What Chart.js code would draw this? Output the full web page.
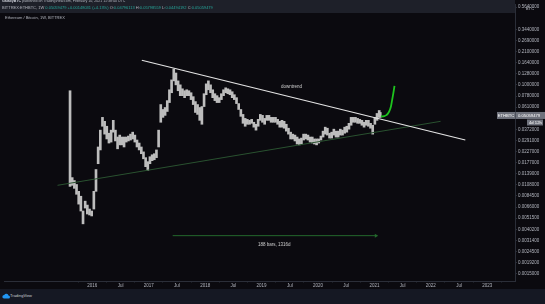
<!DOCTYPE html>
<html><head><meta charset="utf-8">
<script src="https://cdn.jsdelivr.net/npm/chart.js@4.4.1/dist/chart.umd.min.js"></script>
<style>
html,body{margin:0;padding:0;background:#0b0a0f;width:545px;height:304px;overflow:hidden;font-family:"Liberation Sans",Arial,sans-serif;}
#wrap{position:absolute;left:0;top:0;width:545px;height:289px;}
#hdr{position:absolute;left:0;top:0;width:515px;height:13px;background:#1e2029;color:#b2b5be;line-height:1;}
.l1{position:absolute;left:2px;top:0.4px;font-size:3.6px;white-space:nowrap;}
.l1 b{color:#d1d4dc;}
.l2{position:absolute;left:2px;top:5.6px;font-size:4px;white-space:nowrap;}
.v{color:#26a69a;}
#sym{position:absolute;left:5px;top:16px;font-size:4px;line-height:1;color:#b2b5be;white-space:nowrap;}
#ftr{position:absolute;left:0;top:289px;width:545px;height:15px;background:#151823;}
#ftr svg{position:absolute;left:2px;top:4px;}
#ftr span{position:absolute;left:10px;top:4.5px;font-size:4px;line-height:1;color:#c9ccd4;}
</style></head>
<body>
<div id="wrap"><canvas id="c" width="545" height="289"></canvas></div>
<div id="hdr">
  <div class="l1"><b>GalaxyBTC</b> published on TradingView.com, February 10, 2021 11:38:40 UTC</div>
  <div class="l2">BITTREX:ETHBTC, 1W <span class="v">0.05059479 +0.00148031 (+4.13%)</span> O:<span class="v">0.04796113</span> H:<span class="v">0.05798559</span> L:<span class="v">0.04494192</span> C:<span class="v">0.05059479</span></div>
</div>
<div id="sym">Ethereum / Bitcoin, 1W, BITTREX</div>
<div id="ftr">
  <svg width="8" height="6" viewBox="0 0 16 12"><path d="M4 11h9a3 3 0 0 0 0-6 4.5 4.5 0 0 0-8.5-1A3.5 3.5 0 0 0 4 11z" fill="#2196f3"/></svg>
  <span>TradingView</span>
</div>
<script>
// ---- data ----
const weekDates = [
'2015-08-10','2015-08-24','2015-09-07','2015-09-21','2015-10-05','2015-10-19','2015-11-02','2015-11-16','2015-11-30','2015-12-14','2015-12-28',
'2016-01-11','2016-01-25','2016-02-08','2016-02-22','2016-03-07','2016-03-21','2016-04-04','2016-04-18','2016-05-02','2016-05-16','2016-05-30','2016-06-13','2016-06-27','2016-07-11','2016-07-25','2016-08-08','2016-08-22','2016-09-05','2016-09-19','2016-10-03','2016-10-17','2016-10-31','2016-11-14','2016-11-28','2016-12-12','2016-12-26',
'2017-01-09','2017-01-23','2017-02-06','2017-02-20','2017-03-06','2017-03-20','2017-04-03','2017-04-17','2017-05-01','2017-05-15','2017-05-29','2017-06-12','2017-06-26','2017-07-10','2017-07-24','2017-08-07','2017-08-21','2017-09-04','2017-09-18','2017-10-02','2017-10-16','2017-10-30','2017-11-13','2017-11-27','2017-12-11','2017-12-25',
'2018-01-08','2018-01-22','2018-02-05','2018-02-19','2018-03-05','2018-03-19','2018-04-02','2018-04-16','2018-04-30','2018-05-14','2018-05-28','2018-06-11','2018-06-25','2018-07-09','2018-07-23','2018-08-06','2018-08-20','2018-09-03','2018-09-17','2018-10-01','2018-10-15','2018-10-29','2018-11-12','2018-11-26','2018-12-10','2018-12-24',
'2019-01-07','2019-01-21','2019-02-04','2019-02-18','2019-03-04','2019-03-18','2019-04-01','2019-04-15','2019-04-29','2019-05-13','2019-05-27','2019-06-10','2019-06-24','2019-07-08','2019-07-22','2019-08-05','2019-08-19','2019-09-02','2019-09-16','2019-09-30','2019-10-14','2019-10-28','2019-11-11','2019-11-25','2019-12-09','2019-12-23',
'2020-01-06','2020-01-20','2020-02-03','2020-02-17','2020-03-02','2020-03-16','2020-03-30','2020-04-13','2020-04-27','2020-05-11','2020-05-25','2020-06-08','2020-06-22','2020-07-06','2020-07-20','2020-08-03','2020-08-17','2020-08-31','2020-09-14','2020-09-28','2020-10-12','2020-10-26','2020-11-09','2020-11-23','2020-12-07','2020-12-21',
'2021-01-04','2021-01-18','2021-02-01','2021-02-08'];

const rangeHigh = [
0.0877,0.0127,0.0119,0.0109,0.00936,0.00839,0.00604,0.00752,0.00689,0.00631,0.00604,
0.00936,0.0152,0.0251,0.0365,0.0485,0.0444,0.0398,0.0341,0.0365,0.0454,0.0365,0.0313,0.0327,0.0313,0.0313,0.0313,0.0320,0.0334,0.0349,0.0327,0.0293,0.0274,0.0251,0.0225,0.0198,0.0181,
0.0202,0.0211,0.0216,0.0235,0.0365,0.0645,0.0578,0.0604,0.0704,0.0896,0.1116,0.1420,0.1301,0.1092,0.1000,0.0916,0.0877,0.0896,0.0877,0.0839,0.0769,0.0689,0.0645,0.0604,0.0617,0.0821,
0.1022,0.1092,0.1000,0.0896,0.0821,0.0786,0.0752,0.0821,0.0896,0.0936,0.0916,0.0896,0.0858,0.0803,0.0752,0.0659,0.0578,0.0518,0.0474,0.0464,0.0454,0.0464,0.0435,0.0416,0.0464,0.0518,
0.0507,0.0474,0.0507,0.0507,0.0485,0.0485,0.0485,0.0464,0.0444,0.0454,0.0444,0.0416,0.0381,0.0349,0.0334,0.0327,0.0313,0.0300,0.0306,0.0334,0.0334,0.0327,0.0313,0.0313,0.0300,0.0300,
0.0300,0.0320,0.0357,0.0390,0.0381,0.0341,0.0349,0.0373,0.0357,0.0357,0.0373,0.0365,0.0390,0.0398,0.0425,0.0485,0.0485,0.0485,0.0474,0.0464,0.0454,0.0435,0.0454,0.0454,0.0425,0.0407,
0.0485,0.0529,0.0565,0.0541];

const rangeLow = [
0.01045,0.0107,0.0100,0.00876,0.00704,0.00604,0.00454,0.00645,0.00565,0.00553,0.00541,
0.00631,0.00936,0.0173,0.0235,0.0398,0.0334,0.0300,0.0274,0.0280,0.0349,0.0287,0.0241,0.0263,0.0263,0.0251,0.0280,0.0287,0.0293,0.0300,0.0280,0.0251,0.0235,0.0216,0.0193,0.0162,0.0149,
0.0173,0.0185,0.0189,0.0198,0.0251,0.0435,0.0485,0.0507,0.0553,0.0674,0.0839,0.1092,0.1000,0.0877,0.0786,0.0786,0.0752,0.0786,0.0786,0.0720,0.0645,0.0541,0.0518,0.0454,0.0416,0.0617,
0.0803,0.0896,0.0839,0.0752,0.0704,0.0674,0.0674,0.0720,0.0786,0.0839,0.0821,0.0803,0.0752,0.0720,0.0659,0.0578,0.0496,0.0425,0.0398,0.0416,0.0416,0.0425,0.0390,0.0365,0.0398,0.0454,
0.0435,0.0416,0.0454,0.0454,0.0435,0.0435,0.0435,0.0416,0.0390,0.0390,0.0381,0.0357,0.0334,0.0300,0.0300,0.0287,0.0268,0.0263,0.0268,0.0293,0.0300,0.0293,0.0280,0.0274,0.0268,0.0263,
0.0274,0.0293,0.0313,0.0334,0.0327,0.0306,0.0306,0.0327,0.0313,0.0313,0.0327,0.0327,0.0341,0.0349,0.0373,0.0407,0.0435,0.0435,0.0425,0.0425,0.0407,0.0390,0.0407,0.0398,0.0381,0.0334,
0.0416,0.0454,0.0485,0.0485];

const projDates  = ['2021-02-13','2021-02-24','2021-03-06','2021-03-17','2021-03-28','2021-04-07','2021-04-18','2021-04-25','2021-05-03','2021-05-11'];
const projValues = [0.0502,0.0494,0.0499,0.0507,0.0525,0.0553,0.0617,0.0704,0.0821,0.0978];

const trendDates = ['2016-11-17','2022-08-12'];
const trendValues = [0.1729,0.0293];
const trendLabel = 'downtrend';
const trendLabelDate = '2019-07-14';

const supportDates = ['2015-05-21','2022-03-05'];
const supportValues = [0.0107,0.0444];

const measureDates = ['2017-06-05','2021-01-11'];
const measureValues = [0.00349,0.00349];
const measureLabel = '188 bars, 1316d';

const yTickValues = [0.0015,0.00192,0.00245,0.00314,0.00402,0.00515,0.0066,0.00845,0.0108,0.0139,0.0177,0.0227,0.0291,0.0372,0.061,0.078,0.1,0.128,0.164,0.21,0.269,0.344,0.564];
const xTickYears = [2016,2016.5,2017,2017.5,2018,2018.5,2019,2019.5,2020,2020.5,2021,2021.5,2022,2022.5,2023];

const symbolName = 'ETHBTC';
const lastPrice = 0.05059479;
const countdown = '4d 12h';
const unitLabel = 'BTC';

// ---- helpers ----
function toYear(s){
  const [y,m,d] = s.split('-').map(Number);
  const a = Date.UTC(y,0,1), b = Date.UTC(y+1,0,1);
  return y + (Date.UTC(y,m-1,d) - a) / (b - a);
}
const pts = (ds, vs) => ds.map((d,i)=>({x:toYear(d), y:vs[i]}));

const FONT = '"Liberation Sans", Arial, sans-serif';
Chart.defaults.font.family = FONT;

const overlay = {
  id: 'overlay',
  afterDraw(chart){
    const {ctx, chartArea:ca, scales:{x, y}} = chart;
    ctx.save();
    ctx.font = '4.5px ' + FONT;
    ctx.textBaseline = 'middle';
    const x0 = x.getPixelForValue(toYear(trendDates[0])), x1 = x.getPixelForValue(toYear(trendDates[1]));
    const y0 = y.getPixelForValue(trendValues[0]), y1 = y.getPixelForValue(trendValues[1]);
    const tx = x.getPixelForValue(toYear(trendLabelDate));
    const ty = y0 + (y1 - y0) * (tx - x0) / (x1 - x0);
    ctx.fillStyle = '#cfcfcf';
    ctx.textAlign = 'center';
    ctx.fillText(trendLabel, tx, ty - 10.5);
    const mx0 = x.getPixelForValue(toYear(measureDates[0])), mx1 = x.getPixelForValue(toYear(measureDates[1]));
    const my = y.getPixelForValue(measureValues[0]);
    ctx.fillText(measureLabel, (mx0 + mx1) / 2, my + 9);
    const py = y.getPixelForValue(lastPrice);
    ctx.fillStyle = '#6f727c';
    ctx.fillRect(ca.right - 18, py - 3.5, 18, 7);
    ctx.fillRect(ca.right + 0.5, py - 3.5, 29.5, 7);
    ctx.fillRect(ca.right + 12, py + 4, 16, 6);
    ctx.fillStyle = '#ffffff';
    ctx.font = '4.2px ' + FONT;
    ctx.textAlign = 'center';
    ctx.fillText(symbolName, ca.right - 9, py + 0.3);
    ctx.textAlign = 'left';
    ctx.fillText(lastPrice.toFixed(8), ca.right + 3, py + 0.3);
    ctx.fillText(countdown, ca.right + 14, py + 7.2);
    ctx.fillStyle = '#b2b5be';
    ctx.textAlign = 'center';
    ctx.fillText(unitLabel, ca.right + 15, 9);
    ctx.restore();
  }
};

new Chart(document.getElementById('c'), {
  type: 'bar',
  data: {
    datasets: [
      {type:'line', label:'Projection', data: pts(projDates, projValues), borderColor:'#1ec41e', borderWidth:1.8, pointRadius:0, tension:0.25, order:0},
      {type:'line', label:'Downtrend', data: pts(trendDates, trendValues), borderColor:'#e4e4e4', borderWidth:1.1, pointRadius:0, order:1},
      {type:'line', label:'Support', data: pts(supportDates, supportValues), borderColor:'#2a5230', borderWidth:1, pointRadius:0, order:2},
      {type:'line', label:'Range', data: pts(measureDates, measureValues), borderColor:'#24692c', borderWidth:1,
        pointRadius:[0,2.3], pointStyle:'triangle', rotation:90, pointBackgroundColor:'#24692c', pointBorderWidth:0, order:2},
      {type:'bar', label:'ETHBTC', data: weekDates.map((d,i)=>({x:toYear(d), y:[rangeLow[i], rangeHigh[i]]})),
        backgroundColor:'#bdbdbd', barThickness:2, order:5}
    ]
  },
  options: {
    responsive:false, animation:false, devicePixelRatio:1,
    layout:{padding:0},
    plugins:{legend:{display:false}, tooltip:{enabled:false}},
    scales:{
      x:{
        type:'linear', min:2014.435, max:2023.492, offset:false,
        grid:{display:true, drawOnChartArea:false, color:'#2b2e38', tickLength:1.5},
        border:{color:'#2b2e38'},
        ticks:{color:'#b2b5be', font:{size:4.5}, padding:0.5, maxRotation:0, autoSkip:false,
          callback:v => (Math.abs(v % 1) < 1e-9 ? String(v) : 'Jul')},
        afterBuildTicks:s => { s.ticks = xTickYears.map(v => ({value:v})); },
        afterFit:s => { s.height = 8; s.paddingLeft = 0; s.paddingRight = 0; }
      },
      y:{
        type:'logarithmic', position:'right', min:0.001273, max:0.604,
        grid:{display:true, drawOnChartArea:false, color:'#2b2e38', tickLength:2},
        border:{color:'#2b2e38'},
        ticks:{color:'#b2b5be', font:{size:4.5}, padding:1, autoSkip:false,
          callback:v => Number(v).toFixed(7)},
        afterBuildTicks:s => { s.ticks = yTickValues.map(v => ({value:v})); },
        afterFit:s => { s.width = 30; s.paddingTop = 0; s.paddingBottom = 0; }
      }
    }
  },
  plugins:[overlay]
});
</script>
</body></html>
